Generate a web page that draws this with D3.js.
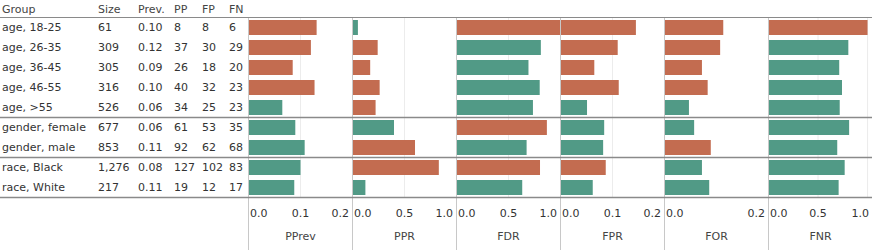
<!DOCTYPE html>
<html>
<head>
<meta charset="utf-8">
<script src="https://cdn.jsdelivr.net/npm/d3@7"></script>
<style>
  html, body { margin: 0; padding: 0; background: #fff; }
  svg { display: block; font-family: "DejaVu Sans", Verdana, sans-serif; }
</style>
</head>
<body>
<svg id="chart" width="872" height="250"></svg>
<script>
// ---- data ----
const groups = ["age, 18-25", "age, 26-35", "age, 36-45", "age, 46-55", "age, >55",
                "gender, female", "gender, male", "race, Black", "race, White"];
const sections = [0, 0, 0, 0, 0, 1, 1, 2, 2];
const sizes = [61, 309, 305, 316, 526, 677, 853, 1276, 217];
const prevs = [0.10, 0.12, 0.09, 0.10, 0.06, 0.06, 0.11, 0.08, 0.11];
const pps = [8, 37, 26, 40, 34, 61, 92, 127, 19];
const fps = [8, 30, 18, 32, 25, 53, 62, 102, 12];
const fns = [6, 29, 20, 23, 23, 35, 68, 83, 17];

const metricNames = ["PPrev", "PPR", "FDR", "FPR", "FOR", "FNR"];
const pprevVals = [0.131, 0.120, 0.085, 0.127, 0.065, 0.090, 0.108, 0.100, 0.088];
const pprVals   = [0.052, 0.242, 0.170, 0.261, 0.222, 0.399, 0.601, 0.830, 0.124];
const fdrVals   = [1.000, 0.811, 0.692, 0.800, 0.735, 0.869, 0.674, 0.803, 0.632];
const fprVals   = [0.145, 0.110, 0.065, 0.112, 0.051, 0.084, 0.082, 0.087, 0.062];
const forVals   = [0.113, 0.107, 0.072, 0.083, 0.047, 0.057, 0.089, 0.072, 0.086];
const fnrVals   = [1.000, 0.806, 0.714, 0.742, 0.719, 0.814, 0.694, 0.769, 0.708];

// 1 = flagged (orange), 0 = ok (teal)
const pprevFlags = [1, 1, 1, 1, 0, 0, 0, 0, 0];
const pprFlags   = [0, 1, 1, 1, 1, 0, 1, 1, 0];
const fdrFlags   = [1, 0, 0, 0, 0, 1, 0, 1, 0];
const fprFlags   = [1, 1, 1, 1, 0, 0, 0, 1, 0];
const forFlags   = [1, 1, 1, 1, 0, 0, 1, 0, 0];
const fnrFlags   = [1, 0, 0, 0, 0, 0, 0, 0, 0];

const domainMax = [0.2, 1.0, 1.0, 0.2, 0.2, 1.05];
const tickSets = [[0, 0.1, 0.2], [0, 0.5, 1.0], [0, 0.5, 1.0], [0, 0.1, 0.2], [0, 0.2], [0, 0.5, 1.0]];

const metricVals = [pprevVals, pprVals, fdrVals, fprVals, forVals, fnrVals];
const metricFlags = [pprevFlags, pprFlags, fdrFlags, fprFlags, forFlags, fnrFlags];

// ---- layout ----
const W = 872, H = 250;
const yTop = 17.5, yBottom = 197.5;
const panelX0 = 248, panelW = 104;
const colors = { flag: "#c36c50", ok: "#519a86" };
const textColor = "#333";
const fontSize = "11px";

const svg = d3.select("#chart");

const y = d3.scaleBand().domain(groups).range([yTop, yBottom])
  .paddingInner(0.25).paddingOuter(0.125);
const step = y.step();

// ---- table ----
const cols = [
  { title: "Group", x: 2, vals: groups, fmt: d => d },
  { title: "Size", x: 98, vals: sizes, fmt: d3.format(",") },
  { title: "Prev.", x: 138, vals: prevs, fmt: d3.format(".2f") },
  { title: "PP", x: 174, vals: pps, fmt: d => d },
  { title: "FP", x: 202, vals: fps, fmt: d => d },
  { title: "FN", x: 229, vals: fns, fmt: d => d },
];
const table = svg.append("g").attr("font-size", fontSize).attr("fill", textColor);
cols.forEach(c => {
  table.append("text").attr("x", c.x).attr("y", 13).attr("fill", "#444").text(c.title);
  table.selectAll(null).data(groups).enter().append("text")
    .attr("x", c.x)
    .attr("y", (g) => y(g) + 11)
    .text((g, i) => c.fmt(c.vals[i]));
});

// ---- panels ----
metricNames.forEach((name, m) => {
  const x0 = panelX0 + m * panelW;
  const x = d3.scaleLinear().domain([0, domainMax[m]]).range([x0 + 0.5, x0 + panelW + 0.5]);
  const g = svg.append("g");
  // gridlines (interior ticks)
  g.selectAll(null).data(tickSets[m].filter(t => t > 0 && x(t) < x0 + panelW - 1)).enter()
    .append("line")
    .attr("x1", d => x(d)).attr("x2", d => x(d))
    .attr("y1", yTop).attr("y2", yBottom)
    .attr("stroke", "#ececec").attr("stroke-width", 1);
  // bars
  g.selectAll(null).data(groups).enter().append("rect")
    .attr("x", x(0))
    .attr("y", d => y(d))
    .attr("height", y.bandwidth())
    .attr("width", (d, i) => x(metricVals[m][i]) - x(0))
    .attr("fill", (d, i) => metricFlags[m][i] ? colors.flag : colors.ok);
  // panel left border
  g.append("line")
    .attr("x1", x0 + 0.5).attr("x2", x0 + 0.5)
    .attr("y1", yTop).attr("y2", H)
    .attr("stroke", "#c8c8c8").attr("stroke-width", 1);
  // tick labels, centered but clamped inside the panel
  const tl = g.selectAll(null).data(tickSets[m]).enter().append("text")
    .attr("font-size", fontSize).attr("fill", textColor)
    .attr("y", 216.5)
    .text(d => d3.format(".1f")(d));
  tl.each(function (d) {
    const w = this.getComputedTextLength();
    let left = x(d) - w / 2;
    left = Math.max(left, x0 + 2);
    left = Math.min(left, x0 + panelW - 3 - w);
    d3.select(this).attr("x", left);
  });
  // title
  g.append("text")
    .attr("x", x0 + panelW / 2 + 0.5).attr("y", 240)
    .attr("text-anchor", "middle")
    .attr("font-size", fontSize).attr("fill", "#444")
    .text(name);
});

// ---- horizontal rules ----
const sectionBreaks = [yTop];
for (let i = 1; i < groups.length; i++) {
  if (sections[i] !== sections[i - 1]) sectionBreaks.push(y(groups[i]) - (step - y.bandwidth()) / 2);
}
sectionBreaks.push(yBottom);
svg.append("g").selectAll("line").data(sectionBreaks).enter().append("line")
  .attr("x1", 0).attr("x2", W)
  .attr("y1", d => d).attr("y2", d => d)
  .attr("stroke", "#8a8a8a")
  .attr("stroke-width", (d, i) => (i === 0 ? 1.2 : 1.6));
</script>
</body>
</html>
